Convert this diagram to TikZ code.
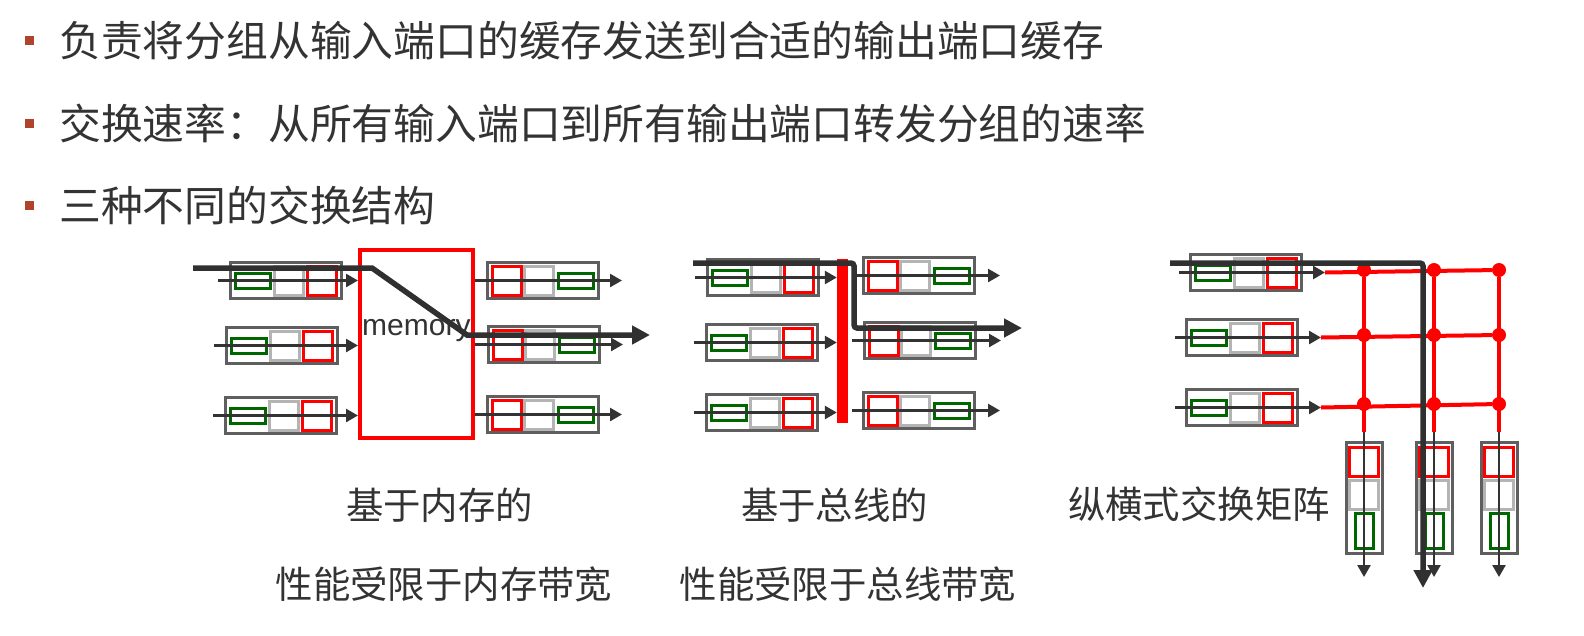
\documentclass[tikz,border=0pt]{standalone}
\usepackage{fontspec}
\setmainfont{Noto Sans CJK SC}
\newfontfamily\latinfont{Liberation Sans}
\usetikzlibrary{arrows.meta,positioning}
\definecolor{txtgray}{HTML}{333333}
\definecolor{boxgray}{HTML}{5F5F5F}
\definecolor{pktgray}{HTML}{B4B4B4}
\definecolor{pktgreen}{HTML}{006600}
\definecolor{bulletred}{HTML}{B0432B}
\definecolor{pathgray}{HTML}{303030}
\tikzset{
  port/.style={rectangle, draw=boxgray, line width=3pt, inner sep=0pt, minimum width=111pt, minimum height=36pt},
  vport/.style={port, minimum width=36pt, minimum height=111pt},
  pkt/.style={rectangle, line width=3pt, inner sep=0pt},
  redpkt/.style={pkt, draw=red, minimum size=29pt},
  graypkt/.style={pkt, draw=pktgray, minimum size=29pt},
  greenpkt/.style={pkt, draw=pktgreen, minimum width=35pt, minimum height=15pt},
  vgreenpkt/.style={pkt, draw=pktgreen, minimum width=18pt, minimum height=35pt},
  arr/.style={-{Triangle[length=12pt,width=13pt]}, line width=2.5pt, draw=txtgray},
  bigarr/.style={-{Triangle[length=18pt,width=18pt]}, line width=5.5pt, draw=pathgray},
  xline/.style={red, line width=4pt},
  xdot/.style={circle, fill=red, inner sep=0pt, minimum size=14pt},
  bullet/.style={rectangle, fill=bulletred, inner sep=0pt, minimum size=9pt},
  title/.style={anchor=west, inner sep=0pt, text=txtgray, font=\fontsize{41.8}{50}\selectfont},
  caption/.style={inner sep=0pt, text=txtgray, font=\fontsize{37.4}{45}\selectfont}
}
\begin{document}
\begin{tikzpicture}[x=1pt, y=-1pt]
\fill[white] (0,0) rectangle (1584,635);
\useasboundingbox (0,0) rectangle (1584,635);

\node[bullet] (b1) at (29,40.5) {};
\node[bullet] (b2) at (29,123) {};
\node[bullet] (b3) at (29,205) {};
\node[title] (t1) at (59,40.5) {负责将分组从输入端口的缓存发送到合适的输出端口缓存};
\node[title] (t2) at (59,123) {交换速率：从所有输入端口到所有输出端口转发分组的速率};
\node[title] (t3) at (59,205) {三种不同的交换结构};

% memory
\node[draw=red, line width=4pt, inner sep=0pt, minimum width=113pt, minimum height=188pt] (mem) at (416.5,344) {};
\node[anchor=base west, inner sep=0pt, text=txtgray, font=\latinfont\fontsize{30}{36}\selectfont] (memlbl) at (362,335) {memory};
\foreach \n/\x/\y in {1/229/261, 2/225/326, 3/224/396} {
  \node[port, anchor=north west] (min\n) at (\x,\y) {};
  \node[greenpkt, anchor=west] (min\n g) at ([xshift=5pt]min\n.west) {};
  \node[graypkt, anchor=west] (min\n s) at ([xshift=44pt]min\n.west) {};
  \node[redpkt, anchor=west] (min\n r) at ([xshift=77pt]min\n.west) {};
  \draw[arr] ([xshift=-11pt]min\n.west) -- (min\n -| mem.west);
}
\foreach \n/\x/\y in {1/486/261, 2/487/325, 3/486/395} {
  \node[port, anchor=north west] (mout\n) at (\x,\y) {};
  \node[redpkt, anchor=west] (mout\n r) at ([xshift=5pt]mout\n.west) {};
  \node[graypkt, anchor=west] (mout\n s) at ([xshift=37pt]mout\n.west) {};
  \node[greenpkt, anchor=west] (mout\n g) at ([xshift=71pt]mout\n.west) {};
  \draw[arr] (mout\n -| mem.east) -- ([xshift=22pt]mout\n.east);
}
\coordinate (m0) at (193,268);
\coordinate (m1) at (372,268);
\coordinate (m2) at (467,335);
\coordinate (m3) at (650,335);
\draw[bigarr] (m0) -- (m1) -- (m2) -- (m3);

% bus
\node[fill=red, inner sep=0pt, minimum width=11pt, minimum height=164pt] (bus) at (842.5,341) {};
\foreach \n/\x/\y in {1/706/258, 2/705/323, 3/705/393} {
  \node[port, anchor=north west] (bin\n) at (\x,\y) {};
  \node[greenpkt, anchor=west] (bin\n g) at ([xshift=5pt]bin\n.west) {};
  \node[graypkt, anchor=west] (bin\n s) at ([xshift=44pt]bin\n.west) {};
  \node[redpkt, anchor=west] (bin\n r) at ([xshift=77pt]bin\n.west) {};
  \draw[arr] ([xshift=-11pt]bin\n.west) -- (bin\n -| bus.west);
}
\foreach \n/\x/\y in {1/862/256, 2/863/321, 3/862/391} {
  \node[port, anchor=north west] (bout\n) at (\x,\y) {};
  \node[redpkt, anchor=west] (bout\n r) at ([xshift=5pt]bout\n.west) {};
  \node[graypkt, anchor=west] (bout\n s) at ([xshift=37pt]bout\n.west) {};
  \node[greenpkt, anchor=west] (bout\n g) at ([xshift=71pt]bout\n.west) {};
  \draw[arr] ([xshift=4pt]bout\n -| bus.east) -- ([xshift=24pt]bout\n.east);
}
\coordinate (bp0) at (693,263);
\coordinate (bp1) at (854,263);
\coordinate (bp2) at (854,328);
\coordinate (bp3) at (1022,328);
\draw[bigarr, rounded corners=3pt] (bp0) -- (bp1) -- (bp2) -- (bp3);

% crossbar
\foreach \n/\x/\y in {1/1189/253, 2/1185/318, 3/1185/388} {
  \node[port, anchor=north west] (cin\n) at (\x,\y) {};
  \node[greenpkt, anchor=west] (cin\n g) at ([xshift=5pt]cin\n.west) {};
  \node[graypkt, anchor=west] (cin\n s) at ([xshift=44pt]cin\n.west) {};
  \node[redpkt, anchor=west] (cin\n r) at ([xshift=77pt]cin\n.west) {};
  \coordinate (cine\n) at ([xshift=22pt]cin\n.east);
  \draw[arr] ([xshift=-10pt]cin\n.west) -- (cine\n);
}
\foreach \c/\x in {1/1364, 2/1434, 3/1499} {
  \foreach \r/\y in {1/270, 2/335, 3/404}
    \node[xdot] (x\r\c) at (\x,\y) {};
  \coordinate (xb\c) at (\x,432);
  \coordinate (xo\c) at (\x,577);
}
\foreach \r in {1,2,3}
  \draw[xline] (cine\r) -- (x\r3);
\foreach \c in {1,2,3} {
  \draw[xline] (x1\c) -- (xb\c);
  \node[vport] (cout\c) at ([yshift=-65.5pt]xb\c) {};
  \node[redpkt, anchor=north] (cout\c r) at ([yshift=-5pt]cout\c.north) {};
  \node[graypkt, anchor=north] (cout\c s) at ([yshift=-38pt]cout\c.north) {};
  \node[vgreenpkt, anchor=north] (cout\c g) at ([yshift=-71pt]cout\c.north) {};
  \draw[arr] (xb\c) -- (xo\c);
}
\coordinate (cp0) at (1170,263);
\coordinate (cp1) at (1423,263);
\coordinate (cp2) at (1423,588);
\draw[bigarr, rounded corners=3pt] (cp0) -- (cp1) -- (cp2);

\node[caption] (c1) at (439.5,505.5) {基于内存的};
\node[caption] (c2) at (444,584.5) {性能受限于内存带宽};
\node[caption] (c3) at (834.5,505) {基于总线的};
\node[caption] (c4) at (848,584) {性能受限于总线带宽};
\node[caption] (c5) at (1199,504) {纵横式交换矩阵};
\end{tikzpicture}
\end{document}
